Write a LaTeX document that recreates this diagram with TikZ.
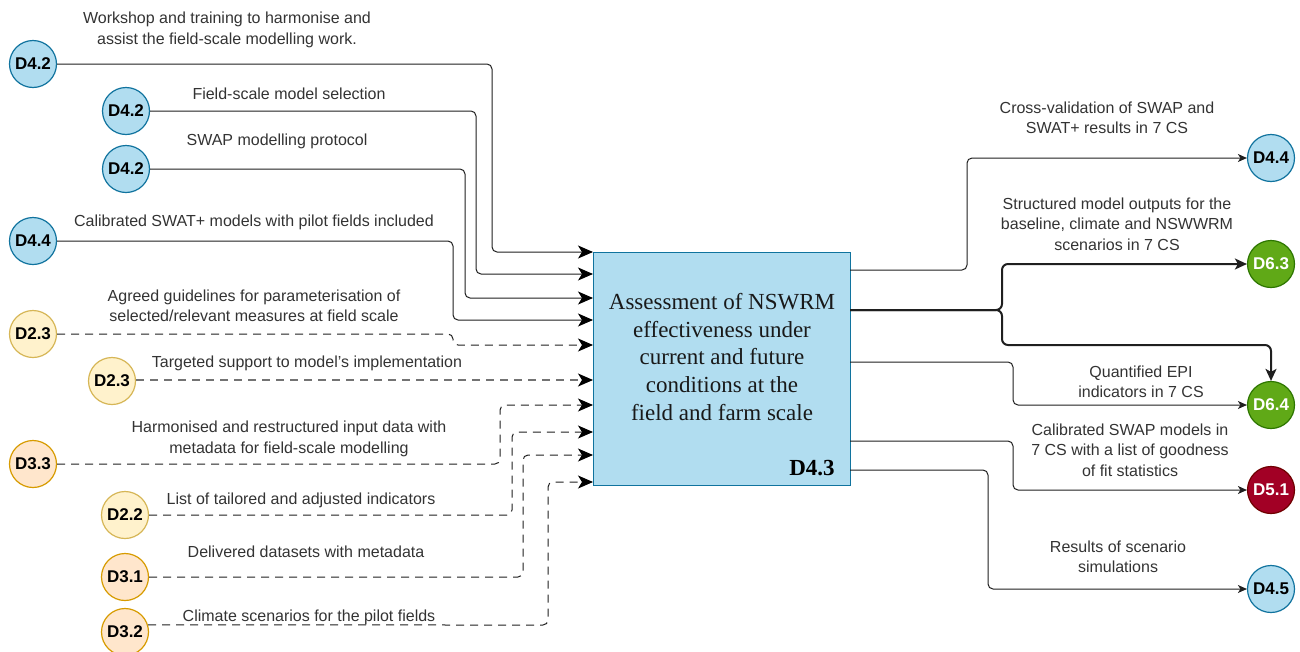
\documentclass[tikz,border=0pt]{standalone}
\usepackage{fontspec}
\setmainfont{Liberation Sans}
\newfontfamily\boxserif{Liberation Serif}
\usetikzlibrary{arrows.meta}
\definecolor{bluef}{HTML}{B1DDF0}
\definecolor{blued}{HTML}{10739E}
\definecolor{yelf}{HTML}{FFF2CC}
\definecolor{yeld}{HTML}{D6B656}
\definecolor{oraf}{HTML}{FFE6CC}
\definecolor{orad}{HTML}{D79B00}
\definecolor{grnf}{HTML}{60A917}
\definecolor{grnd}{HTML}{2D7600}
\definecolor{redf}{HTML}{A20025}
\definecolor{redd}{HTML}{6F0000}
\definecolor{txt}{HTML}{333333}
\definecolor{ln}{HTML}{1F1F1F}
\begin{document}
\begin{tikzpicture}[x=1pt,y=-1pt,
  circ/.style={circle, minimum size=47pt, inner sep=0pt, line width=1.2pt, font=\fontsize{17}{20}\selectfont\bfseries},
  blu/.style={circ, fill=bluef, draw=blued},
  yel/.style={circ, fill=yelf, draw=yeld},
  ora/.style={circ, fill=oraf, draw=orad},
  grn/.style={circ, fill=grnf, draw=grnd, text=white},
  rd/.style={circ, fill=redf, draw=redd, text=white},
  lbl/.style={align=center, inner sep=0pt, font=\fontsize{16}{20.5}\selectfont, text=txt},
  conn/.style={line width=1pt, draw=ln, rounded corners=5pt},
  inarr/.style={conn, -{Stealth[length=15pt,width=13pt,inset=4pt,color=black]}},
  outarr/.style={conn, -{Stealth[length=9pt,width=8pt,inset=2.5pt]}},
  dsh/.style={dash pattern=on 8pt off 6pt},
  mainbox/.style={draw=blued, fill=bluef, line width=1pt, minimum width=257pt, minimum height=233pt, inner sep=0pt}
]
\useasboundingbox (0,0) rectangle (1300,651);

% main box
\node[mainbox] (box) at (721.5,368.5) {};
\node[align=center, inner sep=0pt, text=black!90, font=\boxserif\fontsize{23}{27.7}\selectfont] (boxtxt) at (722,357)
  {Assessment of NSWRM\\effectiveness under\\current and future\\conditions at the\\field and farm scale};
\node[inner sep=0pt, text=black, font=\boxserif\fontsize{23}{27}\selectfont\bfseries] (boxid) at (812,468) {D4.3};

% input circles
\node[blu] (d42a) at (33,64) {D4.2};
\node[blu] (d42b) at (126,111) {D4.2};
\node[blu] (d42c) at (126,169) {D4.2};
\node[blu] (d44l) at (33,241) {D4.4};
\node[yel] (d23a) at (33,334) {D2.3};
\node[yel] (d23b) at (112,381) {D2.3};
\node[ora] (d33) at (33,464) {D3.3};
\node[yel] (d22) at (125,515) {D2.2};
\node[ora] (d31) at (125,577) {D3.1};
\node[ora] (d32) at (125,632) {D3.2};

% output circles
\node[blu] (d44r) at (1271,158) {D4.4};
\node[grn] (d63) at (1271,264) {D6.3};
\node[grn] (d64) at (1271,405) {D6.4};
\node[rd] (d51) at (1271,490) {D5.1};
\node[blu] (d45) at (1271,589) {D4.5};

% entry points on the box
\coordinate (in1) at (593,252);
\coordinate (in2) at (593,274);
\coordinate (in3) at (593,298);
\coordinate (in4) at (593,320);
\coordinate (in5) at (593,345);
\coordinate (in6) at (593,380);
\coordinate (in7) at (593,405);
\coordinate (in8) at (593,432);
\coordinate (in9) at (593,455);
\coordinate (in10) at (593,482);

% exit points on the box
\coordinate (out1) at (850,270);
\coordinate (out2) at (850,310);
\coordinate (out3) at (850,362);
\coordinate (out4) at (850,441);
\coordinate (out5) at (850,470);

% inputs
\draw[inarr] (d42a) -- (492,64) |- (in1);
\draw[inarr] (d42b) -- (476,111) |- (in2);
\draw[inarr] (d42c) -- (465,169) |- (in3);
\draw[inarr] (d44l) -- (453,241) |- (in4);
\draw[inarr, dsh] (d23a) -- (453,334) |- (in5);
\draw[inarr, dsh, draw=black!55, line width=1.4pt] (d23b.east |- in6) -- (in6);
\draw[inarr, dsh] (d33) -- (500,464) |- (in7);
\draw[inarr, dsh] (d22) -- (512,515) |- (in8);
\draw[inarr, dsh] (d31) -- (523,577) |- (in9);
\draw[inarr, dsh] (d32.17) -- (548,625) |- (in10);

% outputs
\draw[outarr] (out1) -- (967,270) |- (d44r);
\draw[conn, line width=2pt, rounded corners=6pt, -{Stealth[length=12pt,width=11pt,inset=3pt]}] (out2) -- (1002,310) |- (d63);
\draw[conn, line width=2pt, rounded corners=6pt, -{Stealth[length=12pt,width=11pt,inset=3pt]}] (out2) -- (1002,310) -- (1002,345) -| (d64);
\draw[outarr] (out3) -- (1013,362) |- (d64);
\draw[outarr] (out4) -- (1013,441) |- (d51);
\draw[outarr] (out5) -- (988,470) |- (d45);

% input labels
\node[lbl] (l1) at (227,30) {Workshop and training to harmonise and\\assist the field-scale modelling work.};
\node[lbl] (l2) at (289,94) {Field-scale model selection};
\node[lbl] (l3) at (277,141) {SWAP modelling protocol};
\node[lbl] (l4) at (254,222) {Calibrated SWAT+ models with pilot fields included};
\node[lbl] (l5) at (254,306) {Agreed guidelines for parameterisation of\\selected/relevant measures at field scale};
\node[lbl] (l6) at (307,363) {Targeted support to model's implementation};
\node[lbl] (l7) at (289,439) {Harmonised and restructured input data with\\metadata for field-scale modelling};
\node[lbl] (l8) at (301,500) {List of tailored and adjusted indicators};
\node[lbl] (l9) at (306,552) {Delivered datasets with metadata};
\node[lbl] (l10) at (309,617) {Climate scenarios for the pilot fields};

% output labels
\node[lbl] (r1) at (1107,118) {Cross-validation of SWAP and\\SWAT+ results in 7 CS};
\node[lbl] (r2) at (1117,224) {Structured model outputs for the\\baseline, climate and NSWWRM\\scenarios in 7 CS};
\node[lbl] (r3) at (1141,382) {Quantified EPI\\indicators in 7 CS};
\node[lbl] (r4) at (1130,450) {Calibrated SWAP models in\\7 CS with a list of goodness\\of fit statistics};
\node[lbl] (r5) at (1118,557) {Results of scenario\\simulations};
\end{tikzpicture}
\end{document}
